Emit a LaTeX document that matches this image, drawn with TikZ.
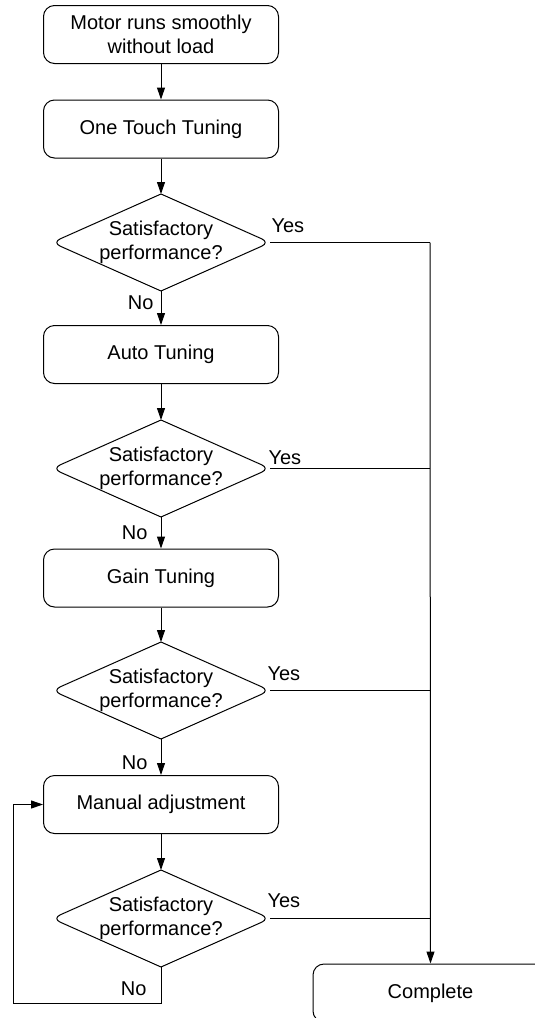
\documentclass[tikz,border=0pt]{standalone}
\usepackage{fontspec}
\setmainfont{Liberation Sans}
\usetikzlibrary{arrows.meta}
\begin{document}
\begin{tikzpicture}[x=1pt,y=-1pt,
  font=\fontsize{20}{24}\selectfont,
  line width=1pt,
  stepbox/.style={draw, rectangle, rounded corners=11pt, minimum width=235pt, minimum height=58pt, inner sep=0pt, align=center},
  decbox/.style={rectangle, draw=none, minimum width=217pt, minimum height=96pt, inner sep=0pt, align=center},
  lbl/.style={inner sep=0pt},
  arr/.style={-{Triangle[length=12pt,width=8pt]}},
  tipline/.style={rounded corners=9pt}
]
\useasboundingbox (0,0) rectangle (535,1018);
\clip (0,0) rectangle (535,1018);

\node[stepbox] (b1) at (161,34.5) {Motor runs smoothly\\without load};
\node[stepbox] (b2) at (161,129) {One Touch Tuning};
\node[decbox] (d1) at (161,242.5) {Satisfactory\\performance?};
\node[stepbox] (b3) at (161,354.5) {Auto Tuning};
\node[decbox] (d2) at (161,468.5) {Satisfactory\\performance?};
\node[stepbox] (b4) at (161,578) {Gain Tuning};
\node[decbox] (d3) at (161,690.5) {Satisfactory\\performance?};
\node[stepbox] (b5) at (161,804.5) {Manual adjustment};
\node[decbox] (d4) at (161,918.5) {Satisfactory\\performance?};
\node[stepbox] (done) at (430.5,993) {Complete};

% diamond outlines
\foreach \d in {d1,d2,d3,d4}{
  \draw[tipline] (\d.north) -- (\d.east) -- (\d.south);
  \draw[tipline] (\d.north) -- (\d.west) -- (\d.south);
}

% junction coordinates on the collector line
\coordinate (j1) at (430,242.5);
\coordinate (j2) at (430,468.5);
\coordinate (j3) at (430,690.5);
\coordinate (j4) at (430,918.5);
\coordinate (f2) at (13,1003);

% main flow
\draw[arr] (b1) -- (b2);
\draw[arr] (b2.south) -- (d1.north);
\draw[arr] (d1.south) -- (b3.north);
\draw[arr] (b3.south) -- (d2.north);
\draw[arr] (d2.south) -- (b4.north);
\draw[arr] (b4.south) -- (d3.north);
\draw[arr] (d3.south) -- (b5.north);
\draw[arr] (b5.south) -- (d4.north);

% yes branches
\draw (d1.east) -- (j1);
\draw (d2.east) -- (j2);
\draw (d3.east) -- (j3);
\draw (d4.east) -- (j4);
\draw[arr] (j1) -- (done.north);

% feedback loop
\draw[arr] (d4.south) |- (f2) |- (b5.west);

% labels
\node[lbl, anchor=base west] (y1) at (271,232) {Yes};
\node[lbl, anchor=base west] (y2) at (268,464) {Yes};
\node[lbl, anchor=base west] (y3) at (267,680) {Yes};
\node[lbl, anchor=base west] (y4) at (267,907) {Yes};
\node[lbl, anchor=base east] (n1) at (154,309) {No};
\node[lbl, anchor=base east] (n2) at (148,539) {No};
\node[lbl, anchor=base east] (n3) at (148,769) {No};
\node[lbl, anchor=base east] (n4) at (147,995) {No};
\end{tikzpicture}
\end{document}
